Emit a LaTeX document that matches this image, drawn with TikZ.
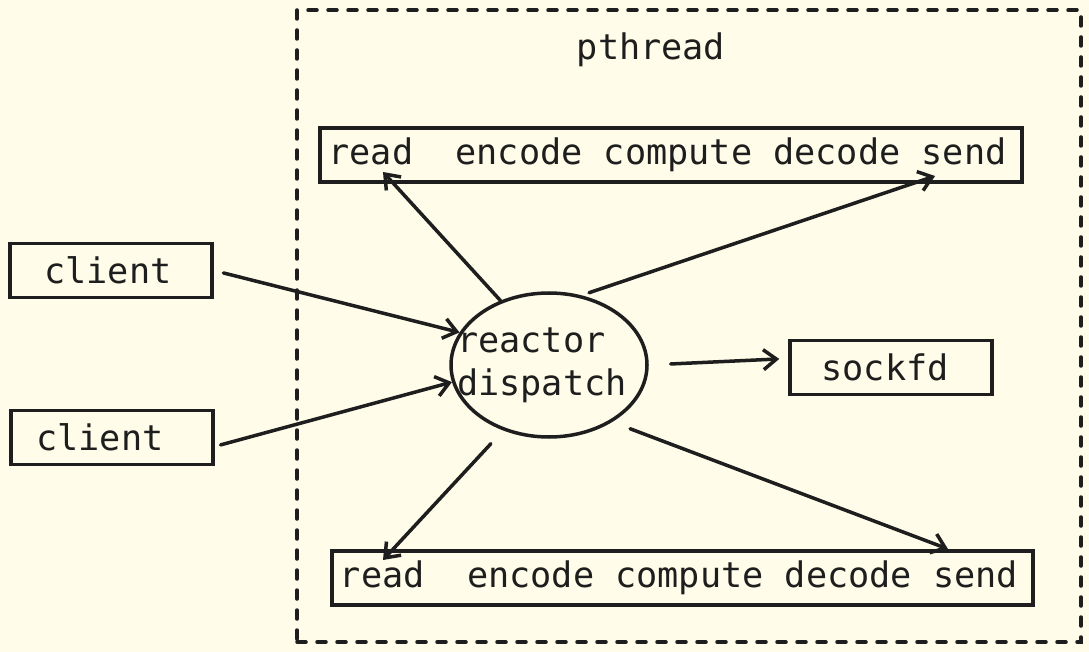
\documentclass[tikz,border=0pt]{standalone}
\usepackage{fontspec}
\setmonofont{DejaVu Sans Mono}
\usetikzlibrary{arrows.meta,shapes.geometric}
\definecolor{paper}{HTML}{FFFDE9}
\definecolor{ink}{HTML}{1E1E1E}
\begin{document}
\begin{tikzpicture}
[
    x=1pt, y=-1pt,
    txt/.style={font=\ttfamily\fontsize{35.2}{43}\selectfont, text=ink},
    box/.style={txt, draw=ink, line width=3.5pt, inner sep=0pt, minimum height=54pt},
    arr/.style={draw=ink, line width=3.5pt, line cap=round,
        -{Straight Barb[length=13pt,width=20pt,line width=3.5pt]}},
]
\fill[paper] (0,0) rectangle (1089,652);
\useasboundingbox (0,0) rectangle (1089,652);
\node[draw=ink, line width=3.5pt, dash pattern=on 9pt off 11pt, line cap=round,
    minimum width=784pt, minimum height=632pt] (pthread) at (689,326) {};
\node[txt] (ptitle) at (651,50) {pthread};
\node[box, minimum width=702pt] (top) at (671,155) {\hspace*{-7pt}read\ \ encode compute decode send};
\node[box, minimum width=701pt] (bot) at (682.5,578) {\hspace*{-7pt}read\ \ encode compute decode send};
\node[box, minimum width=202pt] (cl1) at (111,270.5) {\hspace*{-6pt}client};
\node[box, minimum width=202pt] (cl2) at (112,437.5) {\hspace*{-24pt}client};
\node[box, minimum width=202pt] (sock) at (891,367.5) {\hspace*{-12pt}sockfd};
\node[ellipse, draw=ink, line width=3.5pt, minimum width=196pt, minimum height=144pt,
    label={[txt, align=left, xshift=-7pt]center:reactor\\dispatch}] (react) at (549,365) {};
\coordinate (tread) at (383,172);
\coordinate (tsend) at (935,176);
\coordinate (bread) at (383,560);
\coordinate (bsend) at (948,549);
\draw[arr, shorten <=10pt] (cl1.east) -- (react.160);
\draw[arr, shorten <=6pt] (cl2.-5) -- (react.190);
\draw[arr] (react.127) -- (tread);
\draw[arr, shorten <=8pt] (react.65) -- (tsend);
\draw[arr, shorten <=22pt, shorten >=9pt] (react.east) -- (sock.175);
\draw[arr, shorten <=18pt] (react.235) -- (bread);
\draw[arr, shorten <=19pt] (react.-42) -- (bsend);
\end{tikzpicture}
\end{document}
